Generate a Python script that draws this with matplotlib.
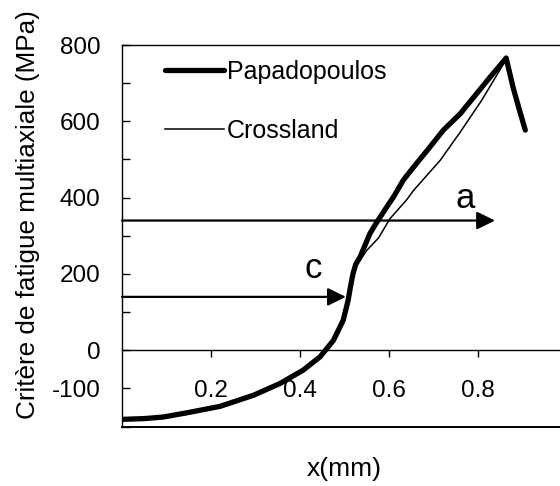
import matplotlib
matplotlib.use("Agg")
import matplotlib.pyplot as plt

plt.rcParams['font.family'] = ['Liberation Sans', 'DejaVu Sans']

# Papadopoulos (thick line)
x_pap = [0.0, 0.05, 0.092, 0.145, 0.22, 0.295, 0.355, 0.407, 0.445, 0.475, 0.497,
         0.508, 0.513, 0.519, 0.525, 0.535, 0.557, 0.572, 0.58, 0.595, 0.61, 0.632,
         0.655, 0.692, 0.722, 0.76, 0.797, 0.827, 0.846, 0.863, 0.879, 0.894, 0.906]
y_pap = [-181, -179, -175, -164, -147, -118, -87, -52, -17, 26, 79,
         131, 165, 201, 225, 245, 306, 335, 349, 376, 402, 446,
         480, 533, 577, 620, 673, 716, 742, 766, 687, 625, 577]

# Crossland (thin line)
x_cro = [0.0, 0.05, 0.092, 0.145, 0.22, 0.295, 0.355, 0.407, 0.445, 0.475, 0.497,
         0.508, 0.513, 0.519, 0.525, 0.535, 0.55, 0.576, 0.602, 0.64, 0.655, 0.677,
         0.715, 0.76, 0.808, 0.845, 0.863]
y_cro = [-181, -179, -175, -164, -147, -118, -87, -52, -17, 26, 79,
         131, 165, 201, 222, 236, 262, 294, 345, 395, 419, 448,
         498, 572, 655, 727, 763]

yticks = [-200, -100, 0, 100, 200, 300, 400, 500, 600, 700, 800]
ytick_labels = ['', '-100', '0', '', '200', '', '400', '', '600', '', '800']
xticks = [0.2, 0.4, 0.6, 0.8]
xtick_labels = ['0.2', '0.4', '0.6', '0.8']

# arrows: (y level, x end, label, label x, label y)
arrow_a = (340, 0.838, 'a', 0.771, 398)
arrow_c = (140, 0.503, 'c', 0.429, 215)

fig = plt.figure(figsize=(5.6, 4.86), dpi=100)
ax = fig.add_axes([0.2179, 0.1222, 0.7821, 0.7852])
ax.set_xlim(0, 0.984)
ax.set_ylim(-200, 800)

ax.plot(x_pap, y_pap, color='black', lw=3.8, label='Papadopoulos',
        solid_joinstyle='round', solid_capstyle='round')
ax.plot(x_cro, y_cro, color='black', lw=1.1, label='Crossland')

for yv, xe, lab, lx, ly in (arrow_a, arrow_c):
    ax.annotate('', xy=(xe, yv), xytext=(0, yv),
                arrowprops=dict(arrowstyle='-|>,head_length=0.55,head_width=0.27',
                                mutation_scale=20, color='black', lw=1.6,
                                shrinkA=0, shrinkB=0))
    ax.text(lx, ly, lab, fontsize=25, ha='center', va='center')

# x axis crosses at y=0, frame line kept at the bottom
ax.spines['right'].set_visible(False)
ax.spines['bottom'].set_position(('data', 0))
ax.axhline(-200, color='black', lw=1.4, clip_on=False)
ax.set_xticks(xticks)
ax.set_xticklabels(xtick_labels)
ax.tick_params(axis='x', direction='out', length=5, width=1, pad=16.5,
               labelsize=17.5)

ax.set_yticks(yticks)
ax.set_yticklabels(ytick_labels)
ax.tick_params(axis='y', direction='in', length=6, width=1, pad=15.5,
               labelsize=17.5)

for s in ('left', 'top', 'bottom'):
    ax.spines[s].set_linewidth(1.0)

ax.set_ylabel('Critère de fatigue multiaxiale (MPa)', fontsize=18.8)
ax.yaxis.set_label_coords(-0.187, 0.5545)
fig.text(0.614, 0.034, 'x(mm)', fontsize=19, ha='center', va='center')

ax.legend(loc='upper left', bbox_to_anchor=(0.098, 0.962), frameon=False,
          fontsize=18, handlelength=2.35, handletextpad=0.12, labelspacing=1.42,
          borderpad=0, borderaxespad=0)

fig.savefig('out.png', dpi=100)
